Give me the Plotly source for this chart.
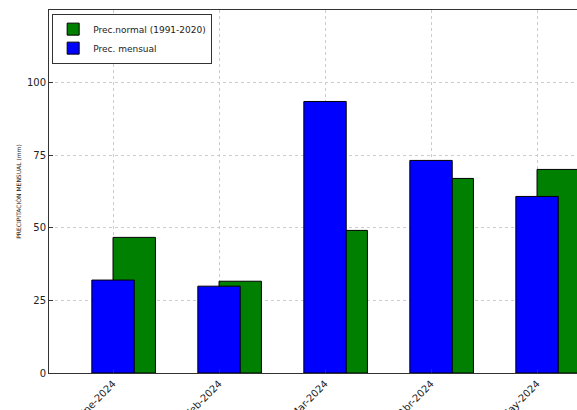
import plotly.graph_objects as go

months = ["Ene-2024", "Feb-2024", "Mar-2024", "Abr-2024", "May-2024"]
prec_normal = [46.7, 31.6, 49.1, 67.0, 70.1]
prec_mensual = [32.0, 29.9, 93.5, 73.2, 60.8]

idx = list(range(len(months)))

fig = go.Figure()

# normal first (drawn behind), starts at the tick
fig.add_trace(
    go.Bar(
        x=idx,
        y=prec_normal,
        name="Prec.normal (1991-2020)",
        width=0.4,
        offset=0,
        marker=dict(color="#008000", line=dict(color="black", width=1)),
    )
)
# monthly, centred on the tick
fig.add_trace(
    go.Bar(
        x=idx,
        y=prec_mensual,
        name="Prec. mensual",
        width=0.4,
        offset=-0.2,
        marker=dict(color="#0000ff", line=dict(color="black", width=1)),
    )
)

fig.update_layout(
    width=577,
    height=410,
    barmode="overlay",
    plot_bgcolor="white",
    paper_bgcolor="white",
    font=dict(family="DejaVu Sans", color="#222222", size=10),
    margin=dict(l=49, r=0, t=10, b=37),
    showlegend=True,
    legend=dict(
        x=0.006,
        y=0.99,
        xanchor="left",
        yanchor="top",
        bordercolor="#333333",
        borderwidth=1,
        bgcolor="white",
        font=dict(size=9),
        traceorder="normal",
        itemwidth=30,
        tracegroupgap=0,
    ),
)

fig.update_xaxes(
    range=[-0.604, 4.377],
    tickvals=idx,
    ticktext=months,
    tickangle=-45,
    showgrid=True,
    gridcolor="#cccccc",
    griddash="dot",
    gridwidth=1,
    showline=True,
    linecolor="#333333",
    linewidth=1,
    mirror=True,
    ticks="inside",
    ticklen=4,
    tickcolor="#333333",
    automargin=False,
    zeroline=False,
)
fig.update_yaxes(
    range=[0, 125],
    tickvals=[0, 25, 50, 75, 100],
    showgrid=True,
    gridcolor="#cccccc",
    griddash="dot",
    gridwidth=1,
    showline=True,
    linecolor="#333333",
    linewidth=1,
    ticks="inside",
    ticklen=4,
    tickcolor="#333333",
    zeroline=False,
    automargin=False,
    title=dict(text="PRECIPITACIÓN MENSUAL (mm)", font=dict(size=6), standoff=4),
)

fig.write_html(
    "out.html",
    config={"displayModeBar": False},
    post_script="document.body.style.margin='0';document.body.style.overflow='hidden';",
)
